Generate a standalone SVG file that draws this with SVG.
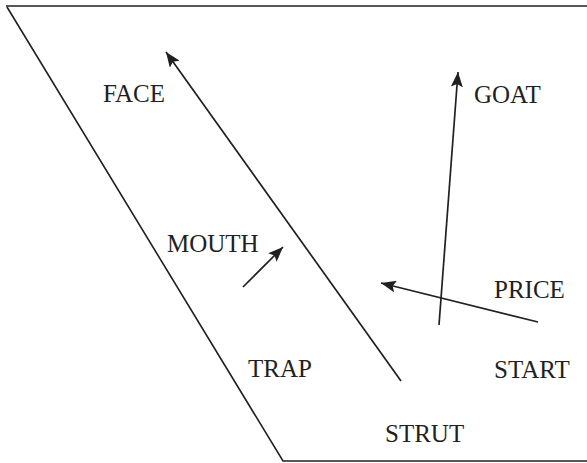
<svg xmlns="http://www.w3.org/2000/svg" width="587" height="463" viewBox="0 0 587 463">
<defs>
<marker id="ah" markerWidth="15" markerHeight="12" viewBox="0 0 15 12" refX="15" refY="6" orient="auto" markerUnits="userSpaceOnUse">
<path d="M0,0 L15,6 L0,12 L3,6 Z" fill="#231f20"/>
</marker>
<style>
.lbl{font-family:"Liberation Serif","Times New Roman",serif;font-size:25px;fill:#231f20}
.edge{stroke:#231f20;stroke-width:1.6;fill:none}
.arr{stroke:#231f20;stroke-width:1.7;fill:none}
</style>
</defs>
<rect width="587" height="463" fill="#ffffff"/>
<g id="frame">
<path class="edge" d="M587,6 L6,6" stroke-width="2.4"/>
<path class="edge" d="M7,7 L283,461 L587,461"/>
</g>
<g id="connectors">
<path class="arr" d="M401,381 L166,52" marker-end="url(#ah)"/>
<path class="arr" d="M439,325 L458,72" marker-end="url(#ah)"/>
<path class="arr" d="M243,287 L283,247" marker-end="url(#ah)"/>
<path class="arr" d="M538,322 L381,283" marker-end="url(#ah)"/>
</g>
<g id="FACE"><text class="lbl" x="103" y="102">FACE</text></g>
<g id="GOAT"><text class="lbl" x="474" y="103">GOAT</text></g>
<g id="MOUTH"><text class="lbl" x="167" y="252">MOUTH</text></g>
<g id="PRICE"><text class="lbl" x="494" y="298">PRICE</text></g>
<g id="TRAP"><text class="lbl" x="248" y="377">TRAP</text></g>
<g id="START"><text class="lbl" x="494" y="378">START</text></g>
<g id="STRUT"><text class="lbl" x="385" y="442">STRUT</text></g>
</svg>
